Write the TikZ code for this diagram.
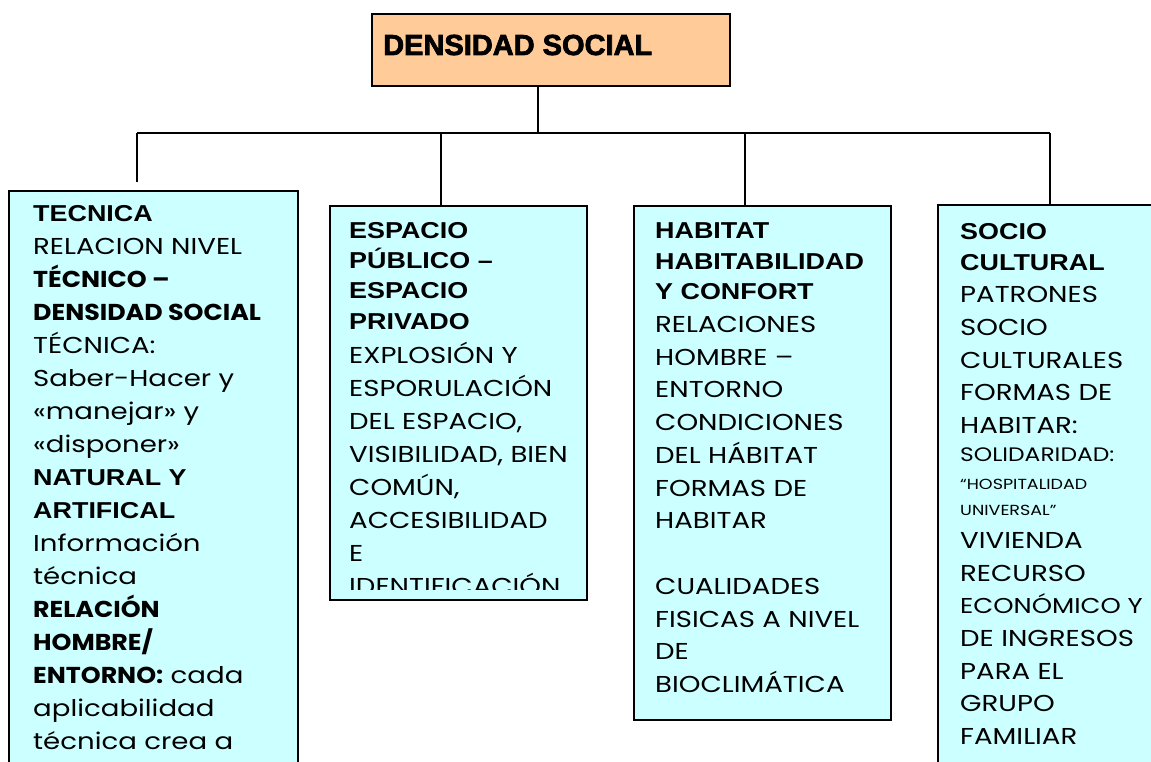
\documentclass[tikz,border=0pt]{standalone}
\usepackage{fontspec}
\setmainfont{Poppins}[FakeStretch=1.2]
\newfontfamily\gothb{Poppins}[FakeStretch=1.1]
\newfontfamily\arialb{Liberation Sans Bold}[FakeStretch=1.17]
\newfontfamily\arialblack{Liberation Sans Bold}[FakeBold=2.5]
\definecolor{boxcyan}{HTML}{CCFFFF}
\definecolor{boxpeach}{HTML}{FFCC99}
\tikzset{
  cbox/.style={draw=black, line width=1.8pt, fill=boxcyan, inner sep=0pt, anchor=north west},
  tbox/.style={draw=black, line width=1.8pt, fill=boxpeach, inner sep=0pt, anchor=north west},
  conn/.style={draw=black, line width=1.4pt},
  txt/.style={inner sep=0pt, anchor=base west, align=left},
}
\newcommand{\bodyfont}{\fontsize{23}{32.7}\selectfont}
\newcommand{\gb}[1]{{\gothb\bfseries #1}}
\newcommand{\ab}[1]{{\arialb #1}}
\begin{document}
\begin{tikzpicture}[x=1pt,y=-1pt]
\clip (0,0) rectangle (1151,762);
\fill[white] (0,0) rectangle (1151,762);
% title
\node[tbox, minimum width=358pt, minimum height=72pt] (top) at (371,13) {};
\node[txt] (title) at (383,55) {\arialblack\fontsize{29}{29}\selectfont DENSIDAD SOCIAL};
% boxes
\node[cbox, minimum width=289pt, minimum height=600pt] (b1) at (8,190) {};
\node[cbox, minimum width=257pt, minimum height=394pt] (b2) at (329,205) {};
\node[cbox, minimum width=257pt, minimum height=514pt] (b3) at (633,205) {};
\node[cbox, minimum width=240pt, minimum height=600pt] (b4) at (937,204) {};
% connectors
\coordinate (hub) at (538,133);
\coordinate (j1) at (137,133);
\coordinate (j2) at (441,133);
\coordinate (j3) at (745,133);
\coordinate (j4) at (1050,133);
\coordinate (e1) at (137,182);
\draw[conn] (hub |- top.south) -- (hub);
\draw[conn] (j1) -- (j4);
\draw[conn] (j1) -- (e1);
\draw[conn] (j2) -- (j2 |- b2.north);
\draw[conn] (j3) -- (j3 |- b3.north);
\draw[conn] (j4) -- (j4 |- b4.north);
% texts
\node[txt] (t1) at (33,221.5) {\parbox[t]{270pt}{\fontsize{23}{33}\selectfont\raggedright
\ab{TECNICA}\\
RELACION NIVEL\\
\gb{TÉCNICO –}\\
\gb{DENSIDAD SOCIAL}\\
TÉCNICA:\\
Saber-Hacer y\\
«manejar» y\\
«disponer»\\
\ab{NATURAL Y}\\
\ab{ARTIFICAL}\\
Información\\
técnica\\
\gb{RELACIÓN}\\
\gb{HOMBRE/}\\
\gb{ENTORNO:} cada\\
aplicabilidad\\
técnica crea a}};
\begin{scope}
\clip (329,205) rectangle (586,589);
\node[txt] (t2) at (349,238.5) {\parbox[t]{235pt}{\fontsize{23}{33}\selectfont\raggedright
\ab{ESPACIO}\\[-2.8pt]
\ab{PÚBLICO –}\\[-2.8pt]
\ab{ESPACIO}\\[-2.8pt]
\ab{PRIVADO}\\[1pt]
EXPLOSIÓN Y\\
ESPORULACIÓN\\
DEL ESPACIO,\\
VISIBILIDAD, BIEN\\
COMÚN,\\
ACCESIBILIDAD\\
E\\
IDENTIFICACIÓN}};
\end{scope}
\node[txt] (t3) at (655,238.5) {\parbox[t]{235pt}{\bodyfont\raggedright
\ab{HABITAT}\\[-2pt]
\ab{HABITABILIDAD}\\[-2pt]
\ab{Y CONFORT}\\
RELACIONES\\
HOMBRE –\\
ENTORNO\\
CONDICIONES\\
DEL HÁBITAT\\
FORMAS DE\\
HABITAR\\[33pt]
CUALIDADES\\
FISICAS A NIVEL\\
DE\\
BIOCLIMÁTICA}};
\node[txt] (t4) at (960,239.5) {\parbox[t]{200pt}{\bodyfont\raggedright
\ab{SOCIO}\\[-2pt]
\ab{CULTURAL}\\
PATRONES\\
SOCIO\\
CULTURALES\\
FORMAS DE\\
HABITAR:\\[-5pt]
{\fontsize{19.5}{19.5}\selectfont SOLIDARIDAD:}\\[-5pt]
{\fontsize{14.6}{14.6}\selectfont “HOSPITALIDAD}\\[-6pt]
{\fontsize{14.6}{14.6}\selectfont UNIVERSAL”}\\
VIVIENDA\\
RECURSO\\
{\fontsize{21.5}{21.5}\selectfont ECONÓMICO Y}\\
DE INGRESOS\\
PARA EL\\
GRUPO\\
FAMILIAR}};
\end{tikzpicture}
\end{document}
